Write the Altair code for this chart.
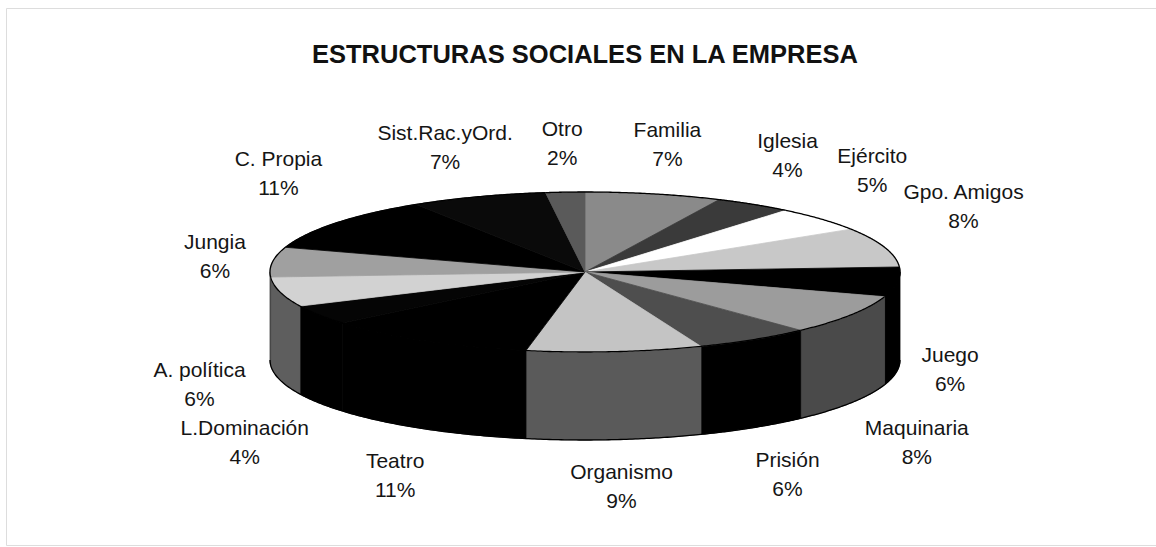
import altair as alt
import pandas as pd

# ---- data (clockwise from 12 o'clock) ----
categorias = ["Familia", "Iglesia", "Ejército", "Gpo. Amigos", "Juego", "Maquinaria",
              "Prisión", "Organismo", "Teatro", "L.Dominación", "A. política", "Jungia",
              "C. Propia", "Sist.Rac.yOrd.", "Otro"]
porcentajes = [7, 4, 5, 8, 6, 8, 6, 9, 11, 4, 6, 6, 11, 7, 2]
color_cara = ["#8a8a8a", "#3a3a3a", "#ffffff", "#c8c8c8", "#000000", "#9c9c9c",
              "#4e4e4e", "#c4c4c4", "#000000", "#050505", "#d2d2d2", "#a0a0a0",
              "#000000", "#0a0a0a", "#5a5a5a"]
color_lado = ["#333333", "#1a1a1a", "#777777", "#555555", "#000000", "#4a4a4a",
              "#000000", "#5a5a5a", "#000000", "#000000", "#5e5e5e", "#444444",
              "#000000", "#000000", "#333333"]

df = pd.DataFrame({
    "categoria": categorias,
    "valor": porcentajes,
    "cara": color_cara,
    "lado": color_lado,
    "orden": list(range(len(categorias))),
})

# ---- layout constants (pixels) ----
CX, CY = 585, 272      # centre of the top face
A, B = 315, 80         # ellipse semi-axes of the top face
DEPTH = 88             # thickness of the 3-D pie
N = 60                 # points per slice edge
LH = 29                # label line height
GAP = 28               # horizontal gap between pie edge and label
FONT = "Liberation Sans"

xs = alt.Scale(domain=[6, 1156], zero=False, nice=False)
ys = alt.Scale(domain=[8, 545], zero=False, nice=False, reverse=True)
X = alt.X("px:Q", scale=xs, axis=None)
Y = alt.Y("py:Q", scale=ys, axis=None)

base = alt.Chart(df).transform_window(
    fin="sum(valor)", frame=[None, 0], sort=[alt.SortField("orden")]
).transform_joinaggregate(
    total="sum(valor)"
).transform_calculate(
    a0="2*PI*(datum.fin - datum.valor)/datum.total",
    a1="2*PI*datum.fin/datum.total",
)

# side walls (front half only)
side_pts = base.transform_calculate(
    s0="max(datum.a0, PI/2)",
    s1="min(datum.a1, 3*PI/2)",
).transform_filter(
    "datum.s1 > datum.s0"
).transform_calculate(
    k=f"sequence(0, {2 * N + 2})"
).transform_flatten(["k"]).transform_calculate(
    t=f"datum.k <= {N} ? datum.k/{N} : ({2 * N + 1} - datum.k)/{N}",
    ang="datum.s0 + (datum.s1 - datum.s0)*datum.t",
    px=f"{CX} + {A}*sin(datum.ang)",
    py=f"{CY} - {B}*cos(datum.ang) + (datum.k <= {N} ? 0 : {DEPTH})",
)

side = side_pts.mark_line(filled=True, interpolate="linear-closed", strokeWidth=0.8).encode(
    x=X, y=Y, detail="categoria:N", order="k:Q",
    fill=alt.Fill("lado:N", scale=None, legend=None),
    stroke=alt.Stroke("lado:N", scale=None, legend=None),
)
side_edge = side_pts.transform_filter(f"datum.k > {N}").mark_line(
    color="#000000", strokeWidth=1.3
).encode(x=X, y=Y, detail="categoria:N", order="k:Q")

# top faces
top_pts = base.transform_calculate(
    k=f"sequence(0, {N + 2})"
).transform_flatten(["k"]).transform_calculate(
    t=f"datum.k == 0 ? 0 : (datum.k - 1)/{N}",
    ang="datum.a0 + (datum.a1 - datum.a0)*datum.t",
    px=f"datum.k == 0 ? {CX} : {CX} + {A}*sin(datum.ang)",
    py=f"datum.k == 0 ? {CY} : {CY} - {B}*cos(datum.ang)",
)

top = top_pts.mark_line(filled=True, interpolate="linear-closed", strokeWidth=0.8).encode(
    x=X, y=Y, detail="categoria:N", order="k:Q",
    fill=alt.Fill("cara:N", scale=None, legend=None),
    stroke=alt.Stroke("cara:N", scale=None, legend=None),
)
top_edge = top_pts.transform_filter("datum.k >= 1").mark_line(
    color="#000000", strokeWidth=1.3
).encode(x=X, y=Y, detail="categoria:N", order="k:Q")

# labels outside the pie
labels = base.transform_calculate(
    m="(datum.a0 + datum.a1)/2",
    c="cos(datum.m)",
    w="length(datum.categoria)*10",
    ex=f"{CX} + {A}*sin(datum.m)",
    ey=f"{CY} - {B}*cos(datum.m) + (cos(datum.m) < 0 ? {DEPTH} : 0)",
    lx=f"datum.ex + sin(datum.m)*(datum.w/2 + {GAP})",
    ly=("datum.ey + (datum.c >= 0 ? -48*clamp((datum.c - 0.1)*4, 0, 1)"
        f" : 48*clamp((-datum.c - 0.2)*2.5, 0, 1)) - {LH / 2}"),
    txt="datum.categoria + '\\n' + datum.valor + '%'",
).mark_text(
    lineBreak="\n", font=FONT, fontSize=21, lineHeight=LH, color="#151515",
    align="center", baseline="middle",
).encode(
    x=alt.X("lx:Q", scale=xs, axis=None),
    y=alt.Y("ly:Q", scale=ys, axis=None),
    text="txt:N",
)

chart = alt.layer(side, top, side_edge, top_edge, labels).properties(
    width=1150,
    height=537,
    padding={"left": 6, "top": 8, "right": 0, "bottom": 2},
    autosize=alt.AutoSizeParams(type="none"),
    title=alt.Title(
        "ESTRUCTURAS SOCIALES EN LA EMPRESA",
        font=FONT, fontSize=25.5, fontWeight="bold", color="#111111",
        anchor="middle", offset=0, dx=4, dy=60,
    ),
).configure_view(
    stroke="#8a8a8a", strokeDash=[1, 2], strokeWidth=1,
).configure(background="white")

chart.save("out.html", embed_options={"renderer": "svg", "actions": False})
